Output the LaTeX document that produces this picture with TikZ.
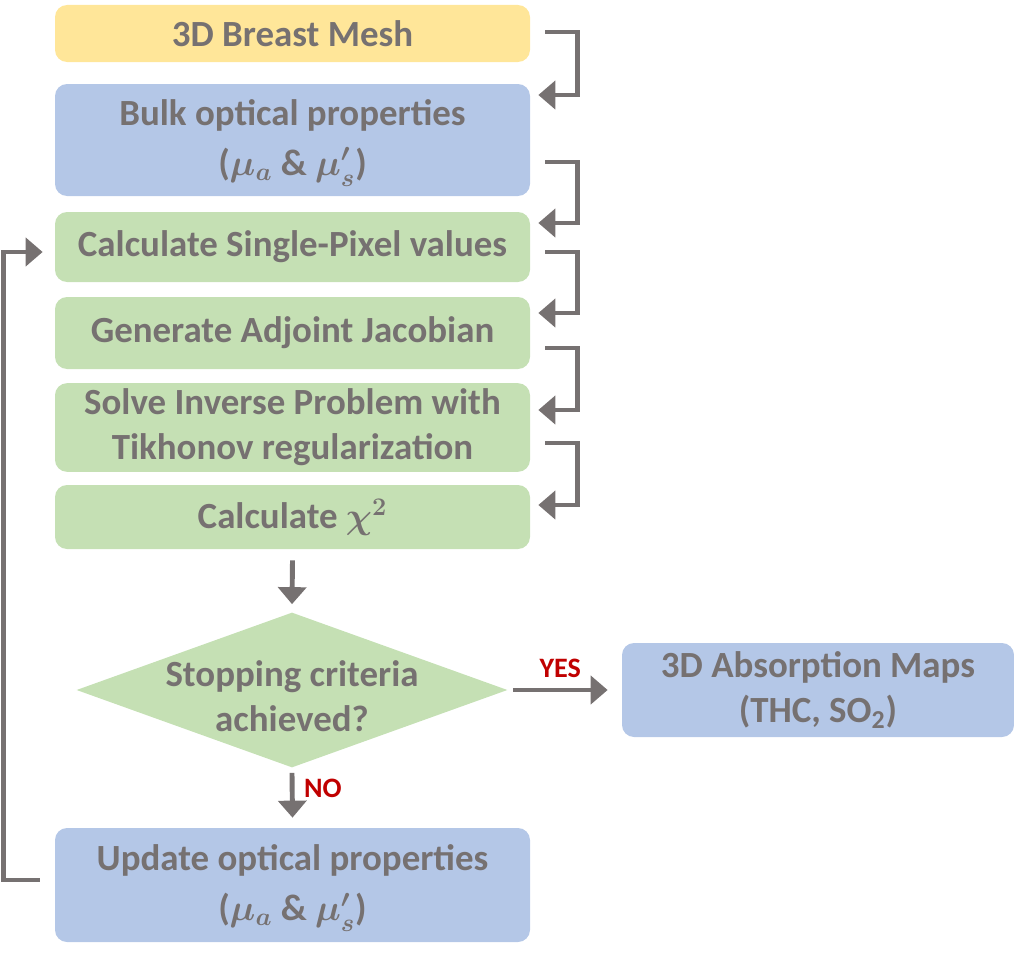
\documentclass[tikz,border=0pt]{standalone}
\usepackage{fontspec}
\setmainfont{Carlito}
\usepackage{amsmath}
\usetikzlibrary{arrows.meta, shapes.geometric, calc}

\definecolor{meshyellow}{HTML}{FFE699}
\definecolor{boxblue}{HTML}{B4C7E7}
\definecolor{boxgreen}{HTML}{C5E0B4}
\definecolor{textgray}{HTML}{767171}
\definecolor{answerred}{HTML}{C00000}

\begin{document}
\begin{tikzpicture}[
    steptext/.style={align=center, text=textgray, font=\fontsize{21}{25.5}\selectfont\bfseries\boldmath},
    stepbox/.style={steptext, rounded corners=0.24cm, minimum width=9.5cm},
    flowarrow/.style={draw=textgray, line width=2.8pt, -{Triangle[length=0.34cm, width=0.56cm]}},
    answer/.style={font=\fontsize{16}{18}\selectfont\bfseries, text=answerred}
  ]
    \useasboundingbox (0,0) rectangle (20.28,-19.08);
    % Etapas do fluxo
    \node[stepbox, fill=meshyellow, minimum height=1.14cm] (mesh) at (5.85,-0.67) {3D Breast Mesh};
    \node[stepbox, fill=boxblue, minimum height=2.24cm] (bulk) at (5.85,-2.8)
      {Bulk optical properties\\[3pt](\smash{$\mu_a$} \& \smash{$\mu'_s$})};
    \node[stepbox, fill=boxgreen, minimum height=1.4cm] (single) at (5.85,-4.94) {Calculate Single-Pixel values};
    \node[stepbox, fill=boxgreen, minimum height=1.44cm] (adjoint) at (5.85,-6.66) {Generate Adjoint Jacobian};
    \node[stepbox, fill=boxgreen, minimum height=1.7cm] (inverse) at (5.85,-8.55)
      {Solve Inverse Problem with\\Tikhonov regularization};
    \node[stepbox, fill=boxgreen, minimum height=1.28cm] (chi) at (5.85,-10.34) {Calculate $\chi^2$};
    % Decisao
    \node[diamond, fill=boxgreen, minimum width=8.62cm, minimum height=3.1cm, inner sep=0pt] (stop) at (5.84,-13.8) {};
    \node[steptext] (stoptext) at ($(stop)+(0,-0.12)$) {Stopping criteria\\achieved?};
    \node[stepbox, fill=boxblue, minimum width=7.84cm, minimum height=1.88cm] (maps) at (16.36,-13.8)
      {3D Absorption Maps\\(THC, SO\textsubscript{2})};
    \node[stepbox, fill=boxblue, minimum height=2.28cm] (update) at (5.85,-17.7)
      {Update optical properties\\[3pt](\smash{$\mu_a$} \& \smash{$\mu'_s$})};
    % Setas em cotovelo entre as etapas
    \foreach \a/\da/\b/\db in {mesh/0.03/bulk/0.9, bulk/-0.44/single/0.48, single/-0.1/adjoint/0.4,
                               adjoint/-0.3/inverse/0.35, inverse/-0.31/chi/0.24}
      \draw[flowarrow] ($(\a.east)+(0.3,\da)$) -| ($(\b.east)+(0.94,\db)$) -- ($(\b.east)+(0.16,\db)$);
    % Setas da decisao
    \draw[flowarrow] ($(chi.south)+(0,-0.22)$) -- ($(stop.north)+(0,0.16)$);
    \draw[flowarrow] ($(stop.east)+(0.1,0)$) -- ($(maps.west)+(-0.28,0)$)
      node[answer, midway, above=2pt] (yes) {YES};
    \draw[flowarrow] ($(stop.south)+(0,-0.1)$) -- ($(update.north)+(0,0.2)$)
      node[answer, pos=0.35, right=2pt] (no) {NO};
    % Laco de volta
    \draw[flowarrow] ($(update.west)+(-0.3,0.1)$) -- ++(-0.72,0) |- ($(single.west)+(-0.24,-0.1)$);
\end{tikzpicture}
\end{document}
